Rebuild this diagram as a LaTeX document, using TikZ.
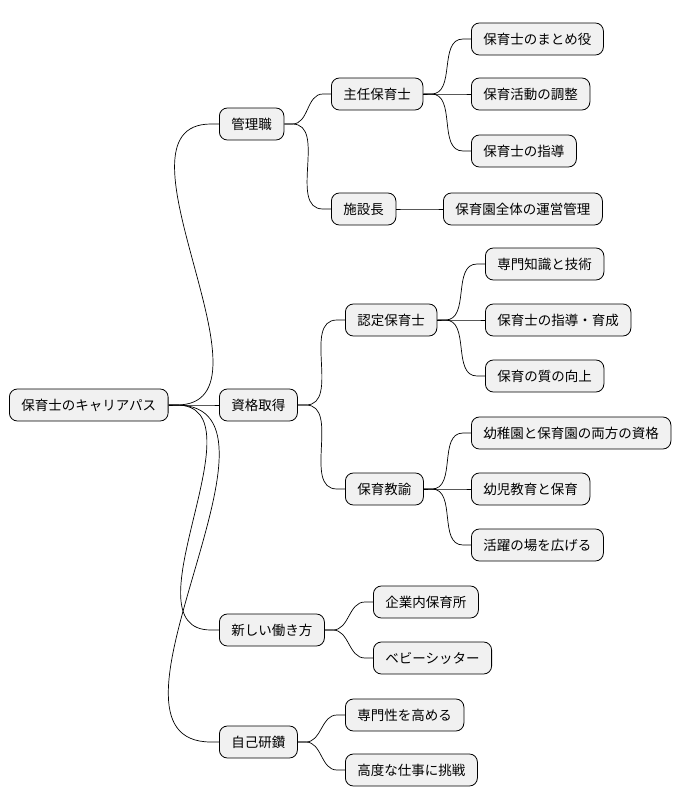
\documentclass[tikz,border=0pt]{standalone}
\usepackage{fontspec}
\setmainfont{Noto Sans CJK JP}
\begin{document}
\begin{tikzpicture}[x=1pt,y=-1pt,
  mm/.style={draw,rounded corners=8pt,fill={rgb,255:red,241;green,241;blue,241},line width=0.8pt,minimum height=32pt,inner xsep=12pt,anchor=west,font=\fontsize{13.5}{15}\selectfont},
  ln/.style={line width=0.7pt}]
\useasboundingbox (0,0) rectangle (684,809);
\node[mm] (r) at (9,405) {保育士のキャリアパス};
\node[mm] (a) at (219,124) {管理職};
\node[mm] (a1) at (331,94) {主任保育士};
\node[mm] (a11) at (471,39) {保育士のまとめ役};
\node[mm] (a12) at (471,94) {保育活動の調整};
\node[mm] (a13) at (471,151) {保育士の指導};
\node[mm] (a2) at (331,209) {施設長};
\node[mm] (a21) at (443,209) {保育園全体の運営管理};
\node[mm] (b) at (219,405) {資格取得};
\node[mm] (b1) at (345,320) {認定保育士};
\node[mm] (b11) at (485,264) {専門知識と技術};
\node[mm] (b12) at (485,320) {保育士の指導・育成};
\node[mm] (b13) at (485,376) {保育の質の向上};
\node[mm] (b2) at (345,489) {保育教諭};
\node[mm] (b21) at (471,433) {幼稚園と保育園の両方の資格};
\node[mm] (b22) at (471,489) {幼児教育と保育};
\node[mm] (b23) at (471,545) {活躍の場を広げる};
\node[mm] (c) at (219,630) {新しい働き方};
\node[mm] (c1) at (373,602) {企業内保育所};
\node[mm] (c2) at (373,658) {ベビーシッター};
\node[mm] (d) at (219,742) {自己研鑽};
\node[mm] (d1) at (345,715) {専門性を高める};
\node[mm] (d2) at (345,770) {高度な仕事に挑戦};
\foreach \p/\c in {r/a,r/b,r/c,r/d,a/a1,a/a2,a1/a11,a1/a12,a1/a13,a2/a21,b/b1,b/b2,b1/b11,b1/b12,b1/b13,b2/b21,b2/b22,b2/b23,c/c1,c/c2,d/d1,d/d2}
  \draw[ln] (\p.east) -- ++(8,0) to[out=0,in=180] ([xshift=-8pt]\c.west) -- (\c.west);
\end{tikzpicture}
\end{document}
